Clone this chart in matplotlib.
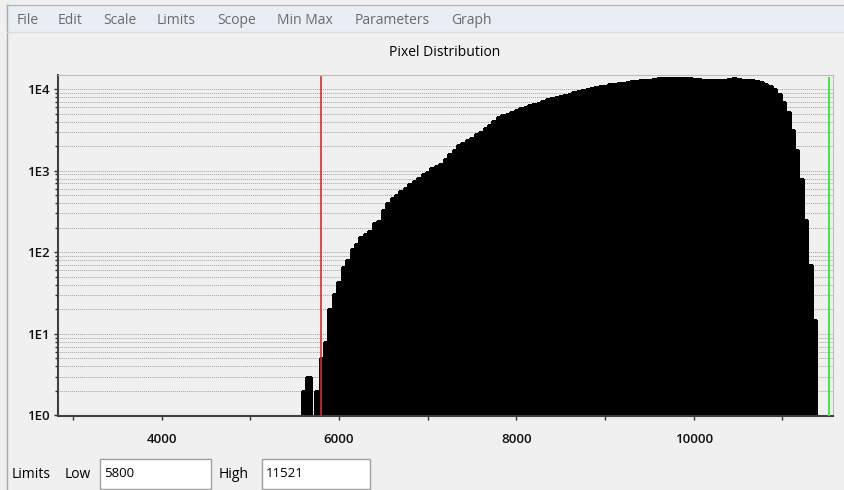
import numpy as np
from matplotlib import pyplot as plt
from matplotlib.patches import Rectangle
from matplotlib.ticker import LogLocator, FixedLocator, NullFormatter

MENU_ITEMS = ["File", "Edit", "Scale", "Limits", "Scope", "Min Max", "Parameters", "Graph"]
MENU_X = [17, 58, 103, 157, 217, 277, 355, 451]

BIN_START = 5580
BIN_WIDTH = 50
COUNTS = [
    2, 3, 0, 2, 5, 8, 20, 31, 43, 66,
    80, 111, 125, 155, 168, 180, 230, 245, 330, 400,
    460, 500, 560, 610, 680, 750, 810, 900, 960, 1080,
    1130, 1200, 1400, 1600, 1800, 2050, 2200, 2400, 2550, 2800,
    3000, 3300, 3650, 4100, 4500, 4800, 5000, 5300, 5600, 5800,
    6000, 6300, 6600, 6800, 7100, 7500, 7700, 7900, 8200, 8500,
    8800, 9100, 9400, 9700, 10000, 10300, 10600, 10800, 11000, 11400,
    11700, 11900, 12000, 12300, 12500, 12700, 12900, 13000, 13100, 13300,
    13500, 13500, 13500, 13600, 13600, 13700, 13700, 13600, 13400, 13200,
    13000, 12900, 12900, 12900, 13000, 13100, 13300, 13500, 13400, 13000,
    12900, 12800, 12600, 12200, 11700, 11000, 10000, 8600, 7000, 5200,
    3200, 1800, 800, 250, 70, 15,
]
LIMIT_LOW = 5800
LIMIT_HIGH = 11521
X_TICKS = [3000, 4000, 5000, 6000, 7000, 8000, 9000, 10000, 11000]
X_LABELS = ["", "4000", "", "6000", "", "8000", "", "10000", ""]
Y_TICKS = [1, 10, 100, 1000, 10000]
Y_LABELS = ["1E0", "1E1", "1E2", "1E3", "1E4"]

W, H = 844, 490
BG = "#f0f0f0"
FONT = "Open Sans"
FS = 10


def px(x, y):
    return x / W, 1 - y / H


def main():
    fig = plt.figure(figsize=(W / 100, H / 100), dpi=100, facecolor=BG)

    # window chrome
    fig.patches.append(Rectangle(px(7, 32), (W - 7) / W, 27 / H, transform=fig.transFigure,
                                 facecolor="#e9eef5", edgecolor="none"))
    fig.add_artist(plt.Line2D([7 / W, 7 / W], [0, 1 - 5 / H], transform=fig.transFigure,
                              color="#a8a8a8", lw=1))
    fig.add_artist(plt.Line2D([7 / W, 1], [1 - 5 / H, 1 - 5 / H], transform=fig.transFigure,
                              color="#b8b8b8", lw=1))
    fig.add_artist(plt.Line2D([7 / W, 1], [1 - 32 / H, 1 - 32 / H], transform=fig.transFigure,
                              color="#d8dce2", lw=1))
    for name, x in zip(MENU_ITEMS, MENU_X):
        fig.text(*px(x, 24), name, fontsize=FS, family=FONT, color="#6a6a6a", va="baseline")

    fig.text(*px(445, 56), "Pixel Distribution", fontsize=FS, family=FONT, color="black",
             ha="center", va="baseline")

    ax = fig.add_axes([58 / W, 1 - 416 / H, (833 - 58) / W, (416 - 75) / H])
    ax.set_facecolor(BG)
    ax.set_yscale("log")

    edges = BIN_START + BIN_WIDTH * np.arange(len(COUNTS))
    counts = np.array(COUNTS, dtype=float)
    ax.bar(edges, counts, width=BIN_WIDTH, align="edge", color="black",
           edgecolor="black", linewidth=0.8, antialiased=False, zorder=2)

    ax.axvline(LIMIT_LOW, ymin=0.0, ymax=0.995, color="#e02828", lw=1.2, zorder=3)
    ax.axvline(LIMIT_HIGH, ymin=0.0, ymax=0.99, color="#3ee83e", lw=1.4, zorder=3)

    ax.set_xlim(2830, 11570)
    ax.set_ylim(0.985, 14900)

    ax.xaxis.set_major_locator(FixedLocator(X_TICKS))
    ax.set_xticklabels(X_LABELS)
    ax.yaxis.set_major_locator(FixedLocator(Y_TICKS))
    ax.set_yticklabels(Y_LABELS)
    ax.yaxis.set_minor_locator(LogLocator(base=10, subs=np.arange(2, 10)))
    ax.yaxis.set_minor_formatter(NullFormatter())

    ax.grid(True, which="both", axis="y", color="#a4a4a4", linestyle=(0, (1, 1)), lw=0.7, zorder=1)
    ax.set_axisbelow(True)

    ax.tick_params(axis="both", which="major", length=3, width=1, color="#303030")
    ax.tick_params(axis="x", pad=9)
    ax.tick_params(axis="y", which="minor", length=2, width=1, color="#303030")
    ax.tick_params(axis="y", pad=3)
    for lab in ax.get_xticklabels() + ax.get_yticklabels():
        lab.set_family(FONT)
        lab.set_fontsize(9.5)
        lab.set_color("#111111")
        lab.set_fontweight("semibold")

    ax.spines["left"].set_color("#404040")
    ax.spines["bottom"].set_color("#404040")
    ax.spines["left"].set_linewidth(1.5)
    ax.spines["bottom"].set_linewidth(1.5)
    ax.spines["top"].set_color("#bcbcbc")
    ax.spines["right"].set_color("#bcbcbc")

    # bottom limits panel
    fig.text(*px(12, 478), "Limits", fontsize=FS, family=FONT, color="black", va="baseline")
    fig.text(*px(65, 478), "Low", fontsize=FS, family=FONT, color="black", va="baseline")
    fig.text(*px(219, 478), "High", fontsize=FS, family=FONT, color="black", va="baseline")
    for x0, x1, value in [(100, 211, LIMIT_LOW), (262, 370, LIMIT_HIGH)]:
        fig.patches.append(Rectangle(px(x0, 489), (x1 - x0) / W, 30 / H, transform=fig.transFigure,
                                     facecolor="white", edgecolor="#a0a0a0", lw=1))
        fig.text(*px(x0 + 4, 477), str(value), fontsize=9.5, family=FONT, color="black",
                 va="baseline")

    fig.savefig("out.png", dpi=100, facecolor=BG)


if __name__ == '__main__':
    main()
